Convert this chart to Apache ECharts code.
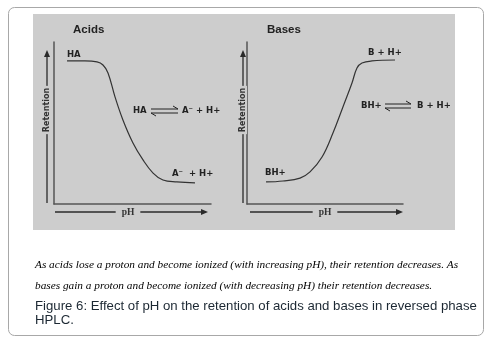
<!DOCTYPE html>
<html>
<head>
<meta charset="utf-8">
<script src="https://cdn.jsdelivr.net/npm/echarts@6/dist/echarts.min.js"></script>
<style>html,body{margin:0;padding:0;background:#fff}#c{width:498px;height:339px}</style>
</head>
<body>
<div id="c"></div>
<script>
// Acids curve (pH, retention) in arbitrary units 0..10
const acidsPH = [0.83, 1.97, 2.74, 3.12, 3.44, 3.89, 4.39, 5.03, 5.67, 6.31, 6.94, 7.83, 8.98];
const acidsRet = [8.83, 8.83, 8.77, 8.58, 8.09, 6.60, 5.19, 3.77, 2.72, 1.91, 1.48, 1.36, 1.30];
// Bases curve
const basesPH = [1.22, 2.31, 3.40, 4.04, 4.81, 5.51, 6.15, 6.73, 7.05, 7.37, 8.01, 9.49];
const basesRet = [1.36, 1.42, 1.60, 1.98, 2.90, 4.38, 5.99, 7.47, 8.40, 8.70, 8.83, 8.89];

const panelTitles = ['Acids', 'Bases'];
const axisNames = ['Retention', 'pH'];
const captionLines = [
  'As acids lose a proton and become ionized (with increasing pH), their retention decreases. As',
  'bases gain a proton and become ionized (with decreasing pH) their retention decreases.'
];
const figureLines = ['Figure 6: Effect of pH on the retention of acids and bases in reversed phase', 'HPLC.'];

const zip = (a, b) => a.map((v, i) => [v, b[i]]);
const GRAY = '#cdcdcd';
const INK = '#2a2a2a';
const LBL = {fontFamily: 'DejaVu Sans', fontWeight: 'bold', fontSize: 8.5, fill: '#222'};

function harpoon(x1, x2, y) {
  return [
    {type: 'polyline', shape: {points: [[x1, y - 2], [x2, y - 2], [x2 - 5, y - 5]]}, style: {stroke: '#222', lineWidth: 1, fill: null}},
    {type: 'polyline', shape: {points: [[x2, y + 2], [x1, y + 2], [x1 + 5, y + 5]]}, style: {stroke: '#222', lineWidth: 1, fill: null}}
  ];
}
function txt(x, y, text, extra) {
  return {type: 'text', x: x, y: y, style: Object.assign({text: text, verticalAlign: 'middle', textVerticalAlign: 'middle'}, LBL, extra || {})};
}
// vertical arrow (x, yBottom, yTop) with rotated label; horizontal arrow (xLeft, xRight, y) with label
function vArrow(x, y1, y2, labelY) {
  return [
    {type: 'line', shape: {x1: x, y1: y1, x2: x, y2: y2 + 6}, style: {stroke: INK, lineWidth: 1.3}},
    {type: 'polygon', shape: {points: [[x, y2], [x - 3, y2 + 7], [x + 3, y2 + 7]]}, style: {fill: INK}},
    {type: 'text', x: x, y: labelY, rotation: Math.PI / 2, z: 5,
      style: {text: axisNames[0], fontFamily: 'DejaVu Sans', fontWeight: 'bold', fontSize: 8, fill: '#333',
        align: 'center', verticalAlign: 'middle', textAlign: 'center', textVerticalAlign: 'middle',
        backgroundColor: GRAY, padding: [0, 2]}}
  ];
}
function hArrow(x1, x2, y, labelX) {
  return [
    {type: 'line', shape: {x1: x1, y1: y, x2: x2 - 6, y2: y}, style: {stroke: INK, lineWidth: 1.3}},
    {type: 'polygon', shape: {points: [[x2, y], [x2 - 7, y - 3], [x2 - 7, y + 3]]}, style: {fill: INK}},
    {type: 'text', x: labelX, y: y + 1, z: 5,
      style: {text: axisNames[1], fontFamily: 'Liberation Serif', fontWeight: 'bold', fontSize: 9.5, fill: '#333',
        align: 'center', verticalAlign: 'middle', textAlign: 'center', textVerticalAlign: 'middle',
        backgroundColor: GRAY, padding: [0, 6]}}
  ];
}

const grids = [
  {left: 54, top: 42, width: 157, height: 162},
  {left: 247, top: 42, width: 156, height: 162}
];
const xAxes = [], yAxes = [];
grids.forEach((g, i) => {
  const base = {gridIndex: i, type: 'value', min: 0, max: 10, axisTick: {show: false}, axisLabel: {show: false}, splitLine: {show: false},
    axisLine: {show: true, onZero: false, lineStyle: {color: '#555', width: 1.5}}};
  xAxes.push(Object.assign({}, base));
  yAxes.push(Object.assign({}, base));
});

const chart = echarts.init(document.getElementById('c'), null, {renderer: 'canvas'});
chart.setOption({
  animation: false,
  backgroundColor: '#fff',
  grid: grids,
  xAxis: xAxes,
  yAxis: yAxes,
  series: [
    {type: 'line', xAxisIndex: 0, yAxisIndex: 0, data: zip(acidsPH, acidsRet), smooth: 0.4, showSymbol: false, lineStyle: {color: '#333', width: 1.2}},
    {type: 'line', xAxisIndex: 1, yAxisIndex: 1, data: zip(basesPH, basesRet), smooth: 0.4, showSymbol: false, lineStyle: {color: '#333', width: 1.2}}
  ],
  graphic: [
    {type: 'rect', z: -10, shape: {x: 8.5, y: 7.5, width: 475, height: 328, r: 6}, style: {fill: '#fff', stroke: '#a8a8a8', lineWidth: 1}},
    {type: 'rect', z: -9, shape: {x: 33, y: 14, width: 422, height: 216}, style: {fill: GRAY}},
    ...vArrow(47, 203, 50, 110),
    ...hArrow(55, 208, 212, 128),
    ...vArrow(243, 203, 50, 110),
    ...hArrow(250, 403, 212, 325),
    txt(73, 30, panelTitles[0], {fontFamily: 'Liberation Sans', fontSize: 11.5}),
    txt(267, 30, panelTitles[1], {fontFamily: 'Liberation Sans', fontSize: 11.5}),
    txt(67, 55, 'HA'),
    txt(133, 111, 'HA'),
    ...harpoon(151, 178, 111),
    txt(182, 111, 'A\u207B + H+'),
    txt(172, 174, 'A\u207B  + H+'),
    txt(368, 53, 'B + H+'),
    txt(361, 106, 'BH+'),
    ...harpoon(385, 411, 106),
    txt(417, 106, 'B + H+'),
    txt(265, 173, 'BH+'),
    {type: 'text', x: 35, y: 265, style: {text: captionLines[0], fontFamily: 'Liberation Serif', fontStyle: 'italic', fontSize: 11.3, fill: '#000', verticalAlign: 'middle', textVerticalAlign: 'middle'}},
    {type: 'text', x: 35, y: 286, style: {text: captionLines[1], fontFamily: 'Liberation Serif', fontStyle: 'italic', fontSize: 11.3, fill: '#000', verticalAlign: 'middle', textVerticalAlign: 'middle'}},
    {type: 'text', x: 35, y: 306, style: {text: figureLines[0], fontFamily: 'Liberation Sans', fontSize: 13.2, fill: '#1c2833', verticalAlign: 'middle', textVerticalAlign: 'middle'}},
    {type: 'text', x: 35, y: 320, style: {text: figureLines[1], fontFamily: 'Liberation Sans', fontSize: 13.2, fill: '#1c2833', verticalAlign: 'middle', textVerticalAlign: 'middle'}}
  ]
});
</script>
</body>
</html>
